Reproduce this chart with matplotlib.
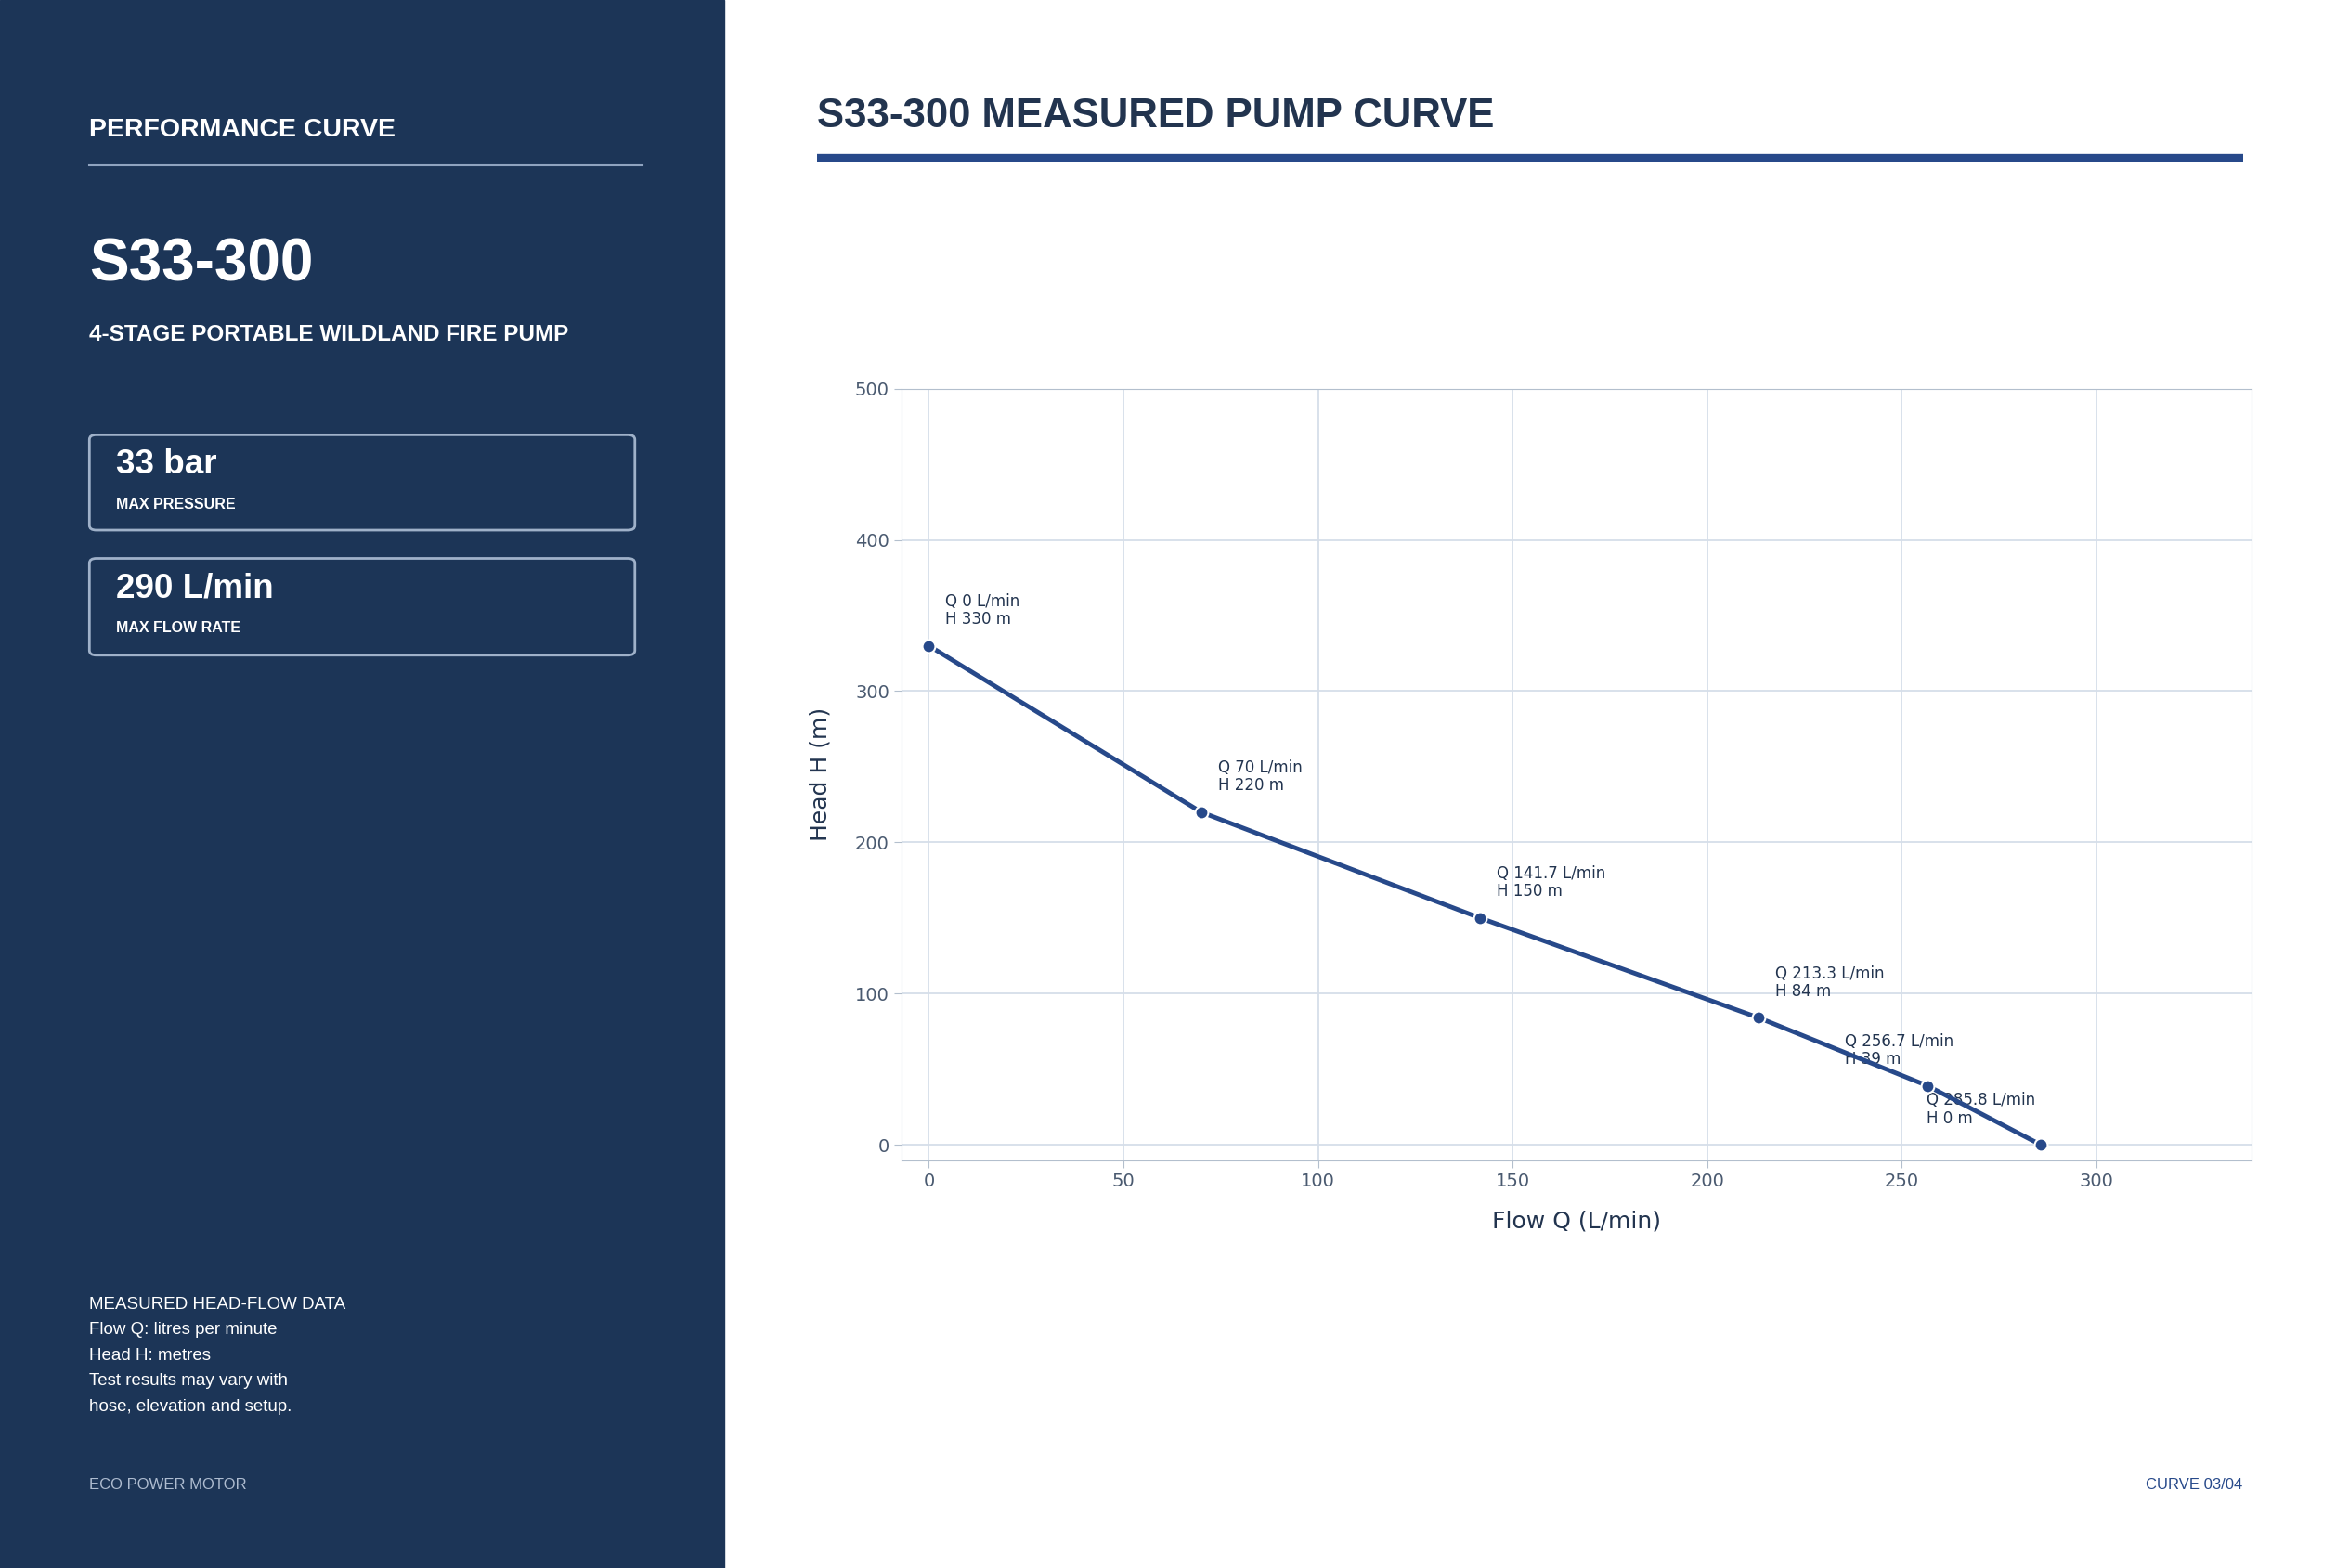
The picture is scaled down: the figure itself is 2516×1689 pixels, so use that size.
import matplotlib
matplotlib.use("Agg")
import matplotlib.pyplot as plt
from matplotlib.patches import Rectangle, FancyBboxPatch
from matplotlib.lines import Line2D

flow = [0, 70, 141.7, 213.3, 256.7, 285.8]
head = [330, 220, 150, 84, 39, 0]
xticks = [0, 50, 100, 150, 200, 250, 300]
yticks = [0, 100, 200, 300, 400, 500]
label_offsets = [(13, 14), (13, 14), (13, 14), (13, 14), (-64, 14), (-89, 14)]

NAVY = "#1c3557"
BLUE = "#27498a"
W, H = 1567.5, 1053
fig = plt.figure(figsize=(25.16, 16.89), dpi=100)
fx = lambda x: x / W
fy = lambda y: 1 - y / H

fig.patches.append(Rectangle((0, 0), fx(486), 1, transform=fig.transFigure, color=NAVY, zorder=0))
SANS = "Liberation Sans"
fig.text(fx(60), fy(87), "PERFORMANCE CURVE", color="white", fontsize=20.5, fontweight="bold", family=SANS, va="center")
fig.add_artist(Line2D([fx(60), fx(431)], [fy(111), fy(111)], color="#8fa3bf", lw=1.5, transform=fig.transFigure))
fig.text(fx(60), fy(178), "S33-300", color="white", fontsize=46, fontweight="bold", family=SANS, va="center")
fig.text(fx(60), fy(225), "4-STAGE PORTABLE WILDLAND FIRE PUMP", color="white", fontsize=17.5, fontweight="bold", family=SANS, va="center")
for (y0, y1, big, small) in [(292, 356, "33 bar", "MAX PRESSURE"), (375, 440, "290 L/min", "MAX FLOW RATE")]:
    fig.patches.append(FancyBboxPatch((fx(60), fy(y1)), fx(426) - fx(60), fy(y0) - fy(y1),
                                      boxstyle="round,pad=0,rounding_size=0.003", transform=fig.transFigure,
                                      facecolor="none", edgecolor="#9fb1c9", lw=2))
    fig.text(fx(78), fy(y0 + 20), big, color="white", fontsize=26.5, fontweight="bold", family=SANS, va="center")
    fig.text(fx(78), fy(y0 + 47), small, color="white", fontsize=11.5, fontweight="bold", family=SANS, va="center")
for i, t in enumerate(["MEASURED HEAD-FLOW DATA", "Flow Q: litres per minute", "Head H: metres",
                       "Test results may vary with", "hose, elevation and setup."]):
    fig.text(fx(60), fy(876 + i * 17.2), t, color="white", fontsize=13.5, family=SANS, va="center")
fig.text(fx(60), fy(997), "ECO POWER MOTOR", color="#aebcd0", fontsize=12, family=SANS, va="center")
fig.text(fx(1505), fy(997), "CURVE 03/04", color=BLUE, fontsize=12, family=SANS, va="center", ha="right")

fig.text(fx(548), fy(78), "S33-300 MEASURED PUMP CURVE", color="#22344f", fontsize=31.5, fontweight="bold", family=SANS, va="center")
fig.add_artist(Line2D([fx(548), fx(1505)], [fy(106), fy(106)], color=BLUE, lw=6, transform=fig.transFigure, solid_capstyle="butt"))

ax = fig.add_axes([fx(605), fy(779), fx(1511) - fx(605), fy(261) - fy(779)])
ax.set_xlim(-7, 340)
ax.set_ylim(-10, 500)
ax.set_xticks(xticks)
ax.set_yticks(yticks)
ax.grid(True, color="#d6dee9", lw=1.3)
ax.set_axisbelow(True)
for s in ax.spines.values():
    s.set_color("#b3bfcd")
ax.tick_params(colors="#b3bfcd", labelcolor="#4a5a70", labelsize=14, length=6)
ax.plot(flow, head, color=BLUE, lw=3.5, marker="o", ms=10, mfc=BLUE, mec="white", mew=1.5, zorder=3)
for q, h, off in zip(flow, head, label_offsets):
    ax.annotate(f"Q {q:g} L/min\nH {h:g} m", (q, h), xytext=off, textcoords="offset points",
                fontsize=12, color="#22344f", va="bottom", ha="left", linespacing=1.1, zorder=2)
ax.set_xlabel("Flow Q (L/min)", fontsize=18, color="#22344f", labelpad=16)
ax.set_ylabel("Head H (m)", fontsize=18, color="#22344f", labelpad=18)

fig.savefig("out.png", dpi=100)
